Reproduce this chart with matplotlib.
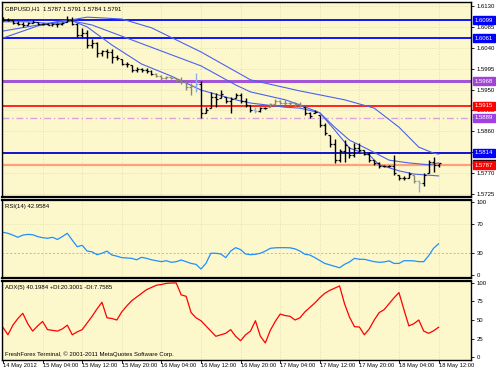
import matplotlib
matplotlib.use("Agg")
import matplotlib.pyplot as plt
from matplotlib.patches import Rectangle
import numpy as np

plt.rcParams["font.family"] = ["Liberation Sans", "DejaVu Sans"]

# ---------------- data ----------------
bar_high = [1.6106,1.6104,1.6100,1.6098,1.6096,1.6096,1.6100,1.6096,1.6094,1.6094,
            1.6093,1.6094,1.6096,1.6108,1.6106,1.6094,1.6083,1.6078,1.6058,1.6053,
            1.6035,1.6037,1.6037,1.6024,1.6015,1.6010,1.6003,1.5999,1.5996,1.5996,
            1.5992,1.5986,1.5981,1.5979,1.5978,1.5975,1.5976,1.5967,1.5964,1.5986,
            1.5969,1.5913,1.5945,1.5943,1.5949,1.5935,1.5935,1.5943,1.5942,1.5931,
            1.5917,1.5913,1.5913,1.5913,1.5920,1.5929,1.5928,1.5928,1.5924,1.5924,
            1.5924,1.5913,1.5902,1.5906,1.5895,1.5877,1.5852,1.5843,1.5823,1.5841,
            1.5827,1.5834,1.5834,1.5820,1.5816,1.5798,1.5795,1.5788,1.5788,1.5809,
            1.5766,1.5764,1.5773,1.5766,1.5755,1.5770,1.5798,1.5805,1.5791]
bar_low = [1.6098,1.6098,1.6091,1.6089,1.6085,1.6089,1.6094,1.6089,1.6089,1.6089,
           1.6087,1.6085,1.6089,1.6096,1.6089,1.6063,1.6063,1.6039,1.6039,1.6021,
           1.6022,1.6017,1.6008,1.6014,1.6003,1.5999,1.5988,1.5988,1.5988,1.5986,
           1.5981,1.5978,1.5971,1.5972,1.5972,1.5967,1.5963,1.5949,1.5938,1.5945,
           1.5888,1.5899,1.5910,1.5913,1.5931,1.5921,1.5899,1.5931,1.5922,1.5913,
           1.5902,1.5899,1.5902,1.5908,1.5913,1.5917,1.5919,1.5917,1.5917,1.5913,
           1.5913,1.5895,1.5888,1.5900,1.5870,1.5852,1.5827,1.5791,1.5795,1.5795,
           1.5802,1.5804,1.5816,1.5809,1.5795,1.5788,1.5780,1.5784,1.5784,1.5766,
           1.5755,1.5755,1.5759,1.5748,1.5730,1.5742,1.5770,1.5773,1.5784]
bar_open = [1.6104,1.6100,1.6100,1.6093,1.6092,1.6090,1.6094,1.6096,1.6091,1.6092,
            1.6090,1.6091,1.6092,1.6096,1.6100,1.6092,1.6068,1.6072,1.6045,1.6050,
            1.6028,1.6032,1.6030,1.6020,1.6015,1.6006,1.6003,1.5992,1.5994,1.5993,
            1.5990,1.5984,1.5980,1.5975,1.5976,1.5974,1.5970,1.5966,1.5955,1.5958,
            1.5962,1.5900,1.5910,1.5935,1.5931,1.5935,1.5925,1.5931,1.5938,1.5926,
            1.5917,1.5906,1.5904,1.5910,1.5913,1.5918,1.5925,1.5922,1.5921,1.5920,
            1.5918,1.5913,1.5900,1.5900,1.5895,1.5874,1.5852,1.5832,1.5798,1.5818,
            1.5827,1.5810,1.5825,1.5820,1.5812,1.5798,1.5792,1.5786,1.5786,1.5786,
            1.5766,1.5760,1.5760,1.5766,1.5752,1.5748,1.5770,1.5795,1.5787]
bar_close = [1.6100,1.6100,1.6093,1.6092,1.6090,1.6094,1.6096,1.6091,1.6092,1.6090,
             1.6091,1.6092,1.6094,1.6100,1.6092,1.6068,1.6072,1.6045,1.6050,1.6028,
             1.6032,1.6030,1.6020,1.6018,1.6006,1.6004,1.5992,1.5994,1.5993,1.5990,
             1.5984,1.5980,1.5975,1.5976,1.5974,1.5970,1.5966,1.5955,1.5958,1.5962,
             1.5900,1.5905,1.5935,1.5930,1.5940,1.5925,1.5930,1.5938,1.5926,1.5917,
             1.5906,1.5904,1.5910,1.5911,1.5918,1.5925,1.5922,1.5921,1.5920,1.5918,
             1.5916,1.5900,1.5892,1.5902,1.5874,1.5856,1.5832,1.5798,1.5818,1.5830,
             1.5810,1.5825,1.5820,1.5812,1.5798,1.5792,1.5786,1.5786,1.5786,1.5770,
             1.5760,1.5760,1.5768,1.5752,1.5748,1.5765,1.5795,1.5787,1.5791]

# moving averages, read at selected bars
ma_slow_idx = [0, 7, 17, 24, 30, 40, 50, 60, 69, 75, 80, 84, 87, 88]
ma_slow_val = [1.6061,1.6087,1.6106,1.6102,1.6083,1.6031,1.5971,1.5947,1.5928,1.5910,
               1.5869,1.5826,1.5813,1.5811]
ma_mid_idx = [0, 13, 18, 26, 33, 40, 47, 50, 57, 60, 64, 67, 70, 74, 78, 82, 86, 88]
ma_mid_val = [1.6076,1.6100,1.6089,1.6057,1.6029,1.6001,1.5960,1.5945,1.5928,1.5917,
              1.5900,1.5869,1.5841,1.5820,1.5798,1.5792,1.5788,1.5792]
ma_fast_idx = [0, 5, 11, 14, 17, 22, 28, 34, 40, 47, 50, 57, 60, 64, 67, 70, 74, 76, 80, 83, 88]
ma_fast_val = [1.6096,1.6096,1.6091,1.6098,1.6085,1.6046,1.6005,1.5979,1.5949,1.5928,
               1.5921,1.5912,1.5910,1.5900,1.5863,1.5824,1.5809,1.5788,1.5775,1.5768,1.5764]

levels = [1.6099, 1.6061, 1.5968, 1.5915, 1.5889, 1.5814, 1.5787]
level_labels = ["1.6099", "1.6061", "1.5968", "1.5915", "1.5889", "1.5814", "1.5787"]
bid_price = 1.5791

price_ticks = [1.6130, 1.6085, 1.6040, 1.5995, 1.5950, 1.5905, 1.5860, 1.5815, 1.5770, 1.5725]
price_tick_labels = ["1.6130", "1.6085", "1.6040", "1.5995", "1.5950", "1.5905", "1.5860",
                     "", "1.5770", "1.5725"]   # 1.5815 is hidden under a level box

rsi = [58.9,57.5,55,52,55,56,55.5,53,51.5,50.6,52,49,53,57.5,48,39,41,33,32,28,
       30,33,27.6,26,24,23.5,23,21,24.4,23,21,19.7,18.4,19.7,17.5,18.4,20.7,18.4,16,14.7,
       8.3,16,30,30,29,24,33,37.7,35,29,28,28.6,30,33,36.8,37.5,37.7,37.7,37.5,36,
       33,28.6,27.6,24,20,16,14,12,10,14.7,18,23,21.7,21.7,20,18.4,17.5,18,19.5,16,
       16,19.7,19.7,19.5,18.4,18.4,26.6,37,42.96]
adx = [40,30,43,52,59,45,35,42,48,37,36,35,38,43,30,34,37,46,55,65,
       74,53,52,50,61,69,76,81,86,91,94,97,98,99.5,100,100,84,82,60,53,
       49,42,35,28,30,32,37,28,22,30,35,49,28,19,36,48,58,56,55,50,
       53,61,67,73,80,86,90,93,96,72,54,41,40.5,30,38,50,60,64,72,80,
       87,64,42,45,50,35,32,35.5,40.2]

time_label_idx = [0, 8, 16, 24, 32, 40, 48, 56, 64, 72, 80, 88]
time_labels = ["14 May 2012", "15 May 04:00", "15 May 12:00", "15 May 20:00",
               "16 May 04:00", "16 May 12:00", "16 May 20:00", "17 May 04:00",
               "17 May 12:00", "17 May 20:00", "18 May 04:00", "18 May 12:00"]

# bar drawing colours (style only)
grey_bars = [31, 32, 33, 34, 35, 36, 37, 38, 54, 55, 56, 57, 58, 59, 60, 83]
blue_bars = [39, 51, 84]

# ---------------- layout ----------------
W, H = 496, 372
BG = "#fdf8cc"
GRID = "#dcd6ac"
fig = plt.figure(figsize=(W / 100, H / 100), dpi=100)
fig.patch.set_facecolor("white")

def px_axes(x0, y0, x1, y1):
    return fig.add_axes([x0 / W, 1 - y1 / H, (x1 - x0) / W, (y1 - y0) / H])

ax_p = px_axes(2, 2, 471, 197)
ax_r = px_axes(2, 200, 471, 278)
ax_a = px_axes(2, 281, 471, 360)

FS = 4.35
FS_T = 4.15
n = len(bar_close)
xr = (-0.2, 94.55)
for ax in (ax_p, ax_r, ax_a):
    ax.set_facecolor(BG)
    ax.set_xlim(*xr)
    ax.set_xticks([])
    for s in ax.spines.values():
        s.set_color("black")
        s.set_linewidth(1.0)
    ax.yaxis.tick_right()
    ax.tick_params(axis="y", length=2.2, pad=1.8, labelsize=FS, width=0.6)
    for i in time_label_idx:
        ax.axvline(i, color=GRID, lw=0.6, ls=(0, (1, 2)), zorder=0)
ax_p.spines["bottom"].set_linewidth(1.6)
ax_r.spines["top"].set_linewidth(1.6)
ax_r.spines["bottom"].set_linewidth(1.6)
ax_a.spines["top"].set_linewidth(1.6)

# ---------------- price panel ----------------
ax_p.set_ylim(1.57186, 1.61386)
ax_p.set_yticks(price_ticks)
ax_p.set_yticklabels(price_tick_labels)
for v in price_ticks:
    ax_p.axhline(v, color=GRID, lw=0.6, ls=(0, (1, 2)), zorder=0)

level_colors = ["#0000ff", "#0000ff", "#a455d6", "#ff0000", "#dda0dd", "#0000cd", "#ffa07a"]
level_widths = [1.3, 1.3, 2.2, 1.2, 1.0, 1.3, 1.6]
level_styles = ["-", "-", "-", "-", (0, (5, 2, 1, 2)), "-", "-"]
for v, c, w, st in zip(levels, level_colors, level_widths, level_styles):
    ax_p.axhline(v, color=c, lw=w, ls=st, zorder=1)

x = np.arange(n)
MA_C = "#4a62ee"
ax_p.plot(ma_slow_idx, ma_slow_val, color=MA_C, lw=0.8, zorder=2)
ax_p.plot(ma_mid_idx, ma_mid_val, color=MA_C, lw=0.8, zorder=2)
ax_p.plot(ma_fast_idx, ma_fast_val, color=MA_C, lw=0.8, zorder=2)

colors = []
for i in range(n):
    if i in blue_bars:
        colors.append("#8fb0f0")
    elif i in grey_bars:
        colors.append("#8a8a70")
    else:
        colors.append("black")
ax_p.vlines(x, bar_low, bar_high, colors=colors, lw=1.0, zorder=3)
ax_p.hlines(bar_open, x - 0.4, x, colors=colors, lw=0.9, zorder=3)
ax_p.hlines(bar_close, x, x + 0.4, colors=colors, lw=0.9, zorder=3)

box_colors = ["#0000ff", "#0000ff", "#9f45d6", "#ff0000", "#a040e0", "#0000ff", "#ff0000"]
ytr = ax_p.get_yaxis_transform()
# bid-price marker, mostly covered by the 1.5787 box as in the reference
ax_p.add_patch(Rectangle((1.004, bid_price - 0.0002), 0.05, 0.0010, transform=ytr,
                         fc="black", ec="black", clip_on=False, zorder=5))
for v, lab, c in zip(levels, level_labels, box_colors):
    ax_p.text(1.008, v, lab, transform=ytr, fontsize=FS,
              color="white", va="center", ha="left", zorder=6, clip_on=False,
              bbox=dict(boxstyle="square,pad=0.25", fc=c, ec=c))

ax_p.text(3 / 469, 0.978, "GBPUSD,H1  1.5787 1.5791 1.5784 1.5791", transform=ax_p.transAxes,
          fontsize=FS, va="top", ha="left", color="black")

# ---------------- RSI panel ----------------
ax_r.set_ylim(-4.1, 103.4)
ax_r.set_yticks([100, 70, 30, 0])
ax_r.set_yticklabels(["100", "70", "30", "0"])
ax_r.axhline(30, color="#b8b8b8", lw=0.7, ls=(0, (2, 2)), zorder=1)
ax_r.axhline(70, color=GRID, lw=0.6, ls=(0, (1, 2)), zorder=0)
ax_r.plot(x, rsi, color="#1e90ff", lw=0.9, zorder=2)
ax_r.text(3 / 469, 0.95, "RSI(14) 42.9584", transform=ax_r.transAxes, fontsize=FS,
          va="top", ha="left")

# ---------------- ADX panel ----------------
ax_a.set_ylim(-4.05, 102.7)
ax_a.set_yticks([100, 75, 50, 25, 0])
ax_a.set_yticklabels(["100", "75", "50", "25", "0"])
ax_a.plot(x, adx, color="#ff0000", lw=0.9, zorder=2)
ax_a.text(3 / 469, 0.95, "ADX(5) 40.1984 +DI:20.3001 -DI:7.7585", transform=ax_a.transAxes,
          fontsize=FS, va="top", ha="left")
ax_a.text(3 / 469, 0.035, "FreshForex Terminal, \u00a9 2001-2011 MetaQuotes Software Corp.",
          transform=ax_a.transAxes, fontsize=FS, va="bottom", ha="left")

# time axis
for i, lab in zip(time_label_idx, time_labels):
    ax_a.annotate(lab, xy=(i, 0), xycoords=("data", "axes fraction"), xytext=(0, -2.5),
                  textcoords="offset points", fontsize=FS_T, va="top", ha="left",
                  annotation_clip=False)
    ax_a.plot([i, i], [0, -0.035], transform=ax_a.get_xaxis_transform(), color="black",
              lw=0.6, clip_on=False)

fig.savefig("out.png", dpi=100, facecolor="white")
